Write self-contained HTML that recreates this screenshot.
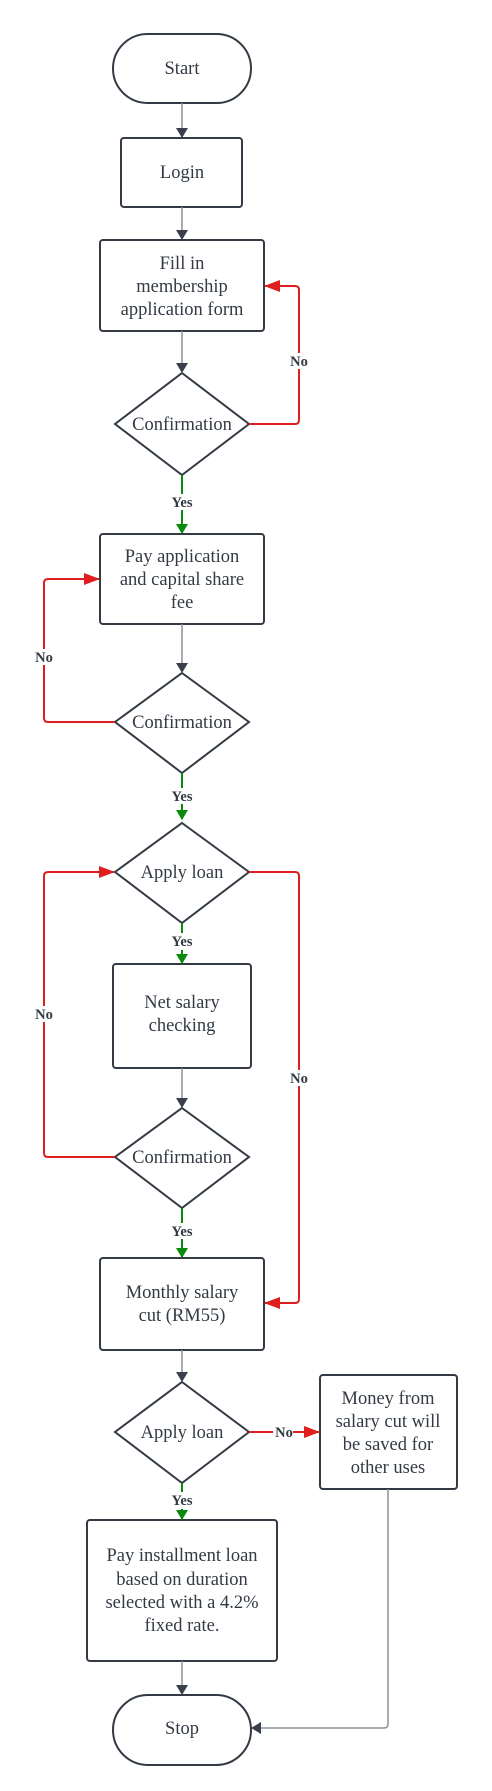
<!DOCTYPE html>
<html><head><meta charset="utf-8"><style>
html,body{margin:0;padding:0;background:#fff}
svg{display:block}
text{font-family:"Liberation Serif",serif;fill:#333a44;font-size:18.5px;text-anchor:middle}
.l{font-weight:bold;font-size:14.5px}
</style></head><body>
<svg width="492" height="1791" viewBox="0 0 492 1791" xmlns="http://www.w3.org/2000/svg">
<defs>
<marker id="ad" markerWidth="10" markerHeight="12" refX="9" refY="6" orient="auto" markerUnits="userSpaceOnUse"><path d="M0,0 L10,6 L0,12z" fill="#3a404b"/></marker>
<marker id="ar" markerWidth="16" markerHeight="12" refX="15" refY="6" orient="auto" markerUnits="userSpaceOnUse"><path d="M0,0 L16,6 L0,12z" fill="#e01e1e"/></marker>
<marker id="ag" markerWidth="10" markerHeight="12" refX="9" refY="6" orient="auto" markerUnits="userSpaceOnUse"><path d="M0,0 L10,6 L0,12z" fill="#0a8a0a"/></marker>
</defs>
<g fill="none" stroke="#333a44" stroke-width="2">
<rect x="113" y="34" width="138" height="69" rx="34.5"/>
<rect x="121" y="138" width="121" height="69" rx="3"/>
<rect x="100" y="240" width="164" height="91" rx="3"/>
<polygon points="182,373 249,424 182,475 115,424"/>
<rect x="100" y="534" width="164" height="90" rx="3"/>
<polygon points="182,673 249,722 182,773 115,722"/>
<polygon points="182,823 249,872 182,923 115,872"/>
<rect x="113" y="964" width="138" height="104" rx="3"/>
<polygon points="182,1108 249,1157 182,1208 115,1157"/>
<rect x="100" y="1258" width="164" height="92" rx="3"/>
<polygon points="182,1382 249,1432 182,1483 115,1432"/>
<rect x="320" y="1375" width="137" height="114" rx="3"/>
<rect x="87" y="1520" width="190" height="141" rx="3"/>
<rect x="113" y="1695" width="138" height="70" rx="35"/>
</g>
<g fill="none" stroke="#8a8f98" stroke-width="1.5">
<line x1="182" y1="103" x2="182" y2="137" marker-end="url(#ad)"/>
<line x1="182" y1="207" x2="182" y2="239" marker-end="url(#ad)"/>
<line x1="182" y1="331" x2="182" y2="372" marker-end="url(#ad)"/>
<line x1="182" y1="624" x2="182" y2="672" marker-end="url(#ad)"/>
<line x1="182" y1="1068" x2="182" y2="1107" marker-end="url(#ad)"/>
<line x1="182" y1="1350" x2="182" y2="1381" marker-end="url(#ad)"/>
<line x1="182" y1="1661" x2="182" y2="1694" marker-end="url(#ad)"/>
<path d="M388,1489 V1724 Q388,1728 384,1728 H252" marker-end="url(#ad)"/>
</g>
<g fill="none" stroke="#0a8a0a" stroke-width="2">
<path d="M182,475 V494 M182,510 V533" marker-end="url(#ag)"/>
<path d="M182,773 V788 M182,804 V819" marker-end="url(#ag)"/>
<path d="M182,923 V933 M182,950 V963" marker-end="url(#ag)"/>
<path d="M182,1208 V1223 M182,1239 V1257" marker-end="url(#ag)"/>
<path d="M182,1483 V1492 M182,1509 V1519" marker-end="url(#ag)"/>
</g>
<g fill="none" stroke="#e01e1e" stroke-width="2">
<path d="M249,424 H295 Q299,424 299,420 V290 Q299,286 295,286 H265" marker-end="url(#ar)"/>
<path d="M115,722 H48 Q44,722 44,718 V583 Q44,579 48,579 H99" marker-end="url(#ar)"/>
<path d="M115,1157 H48 Q44,1157 44,1153 V876 Q44,872 48,872 H114" marker-end="url(#ar)"/>
<path d="M249,872 H295 Q299,872 299,876 V1299 Q299,1303 295,1303 H265" marker-end="url(#ar)"/>
<path d="M249,1432 H319" marker-end="url(#ar)"/>
</g>
<g fill="#fff">
<rect x="287" y="353" width="24" height="16"/>
<rect x="32" y="649" width="24" height="16"/>
<rect x="32" y="1006" width="24" height="16"/>
<rect x="287" y="1070" width="24" height="16"/>
<rect x="273" y="1424" width="20" height="16"/>
</g>
<text x="182" y="269">Fill in</text>
<text x="182" y="74">Start</text>
<text x="182" y="178">Login</text>
<text x="182" y="292">membership</text>
<text x="182" y="315">application form</text>
<text x="182" y="430">Confirmation</text>
<text x="182" y="562">Pay application</text>
<text x="182" y="585">and capital share</text>
<text x="182" y="608">fee</text>
<text x="182" y="728">Confirmation</text>
<text x="182" y="878">Apply loan</text>
<text x="182" y="1008">Net salary</text>
<text x="182" y="1031">checking</text>
<text x="182" y="1163">Confirmation</text>
<text x="182" y="1298">Monthly salary</text>
<text x="182" y="1321">cut (RM55)</text>
<text x="182" y="1438">Apply loan</text>
<text x="388" y="1404">Money from</text>
<text x="388" y="1427">salary cut will</text>
<text x="388" y="1450">be saved for</text>
<text x="388" y="1473">other uses</text>
<text x="182" y="1561">Pay installment loan</text>
<text x="182" y="1585">based on duration</text>
<text x="182" y="1608">selected with a 4.2%</text>
<text x="182" y="1631">fixed rate.</text>
<text x="182" y="1734">Stop</text>
<text class="l" x="299" y="366">No</text>
<text class="l" x="182" y="507">Yes</text>
<text class="l" x="44" y="662">No</text>
<text class="l" x="182" y="801">Yes</text>
<text class="l" x="182" y="946">Yes</text>
<text class="l" x="44" y="1019">No</text>
<text class="l" x="299" y="1083">No</text>
<text class="l" x="182" y="1236">Yes</text>
<text class="l" x="284" y="1437">No</text>
<text class="l" x="182" y="1505">Yes</text>
</svg>
</body></html>
